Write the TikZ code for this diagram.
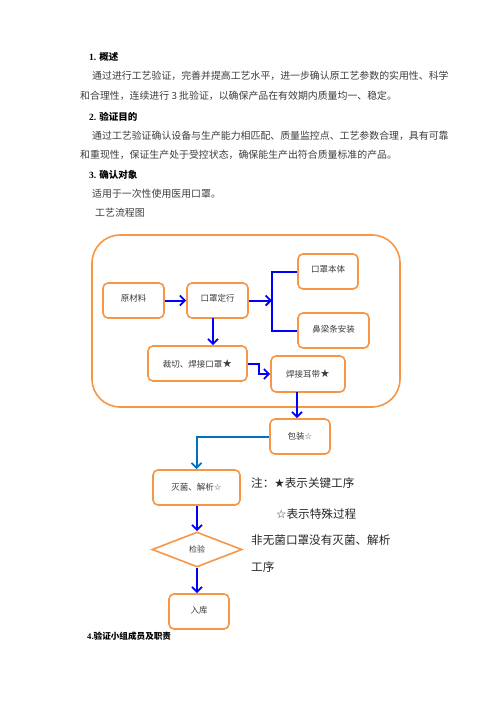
\documentclass[tikz,border=0pt]{standalone}
\usepackage{fontspec}
\setmainfont{Liberation Serif}
\newfontfamily\cjk{Noto Sans CJK SC}
\newfontfamily\sym{DejaVu Sans}
\usetikzlibrary{shapes.geometric,arrows.meta}
\definecolor{boxorange}{RGB}{247,150,70}
\definecolor{darkblue}{RGB}{0,112,192}
\definecolor{bodygray}{RGB}{60,60,60}
\newcommand{\bs}{{\sym\char"2605}}
\newcommand{\ws}{{\sym\char"2606}}
\tikzset{
  pbox/.style={draw=boxorange,line width=1.6pt,rounded corners=5pt,fill=white,inner sep=0pt,
    font=\cjk\fontsize{8.5}{10}\selectfont,text=bodygray},
  dbox/.style={draw=boxorange,line width=1.6pt,diamond,aspect=2.57,inner sep=0pt,
    minimum width=90pt,minimum height=35pt,font=\cjk\fontsize{8}{10}\selectfont,text=bodygray},
  flow/.style={draw=blue,line width=2pt,-{Straight Barb[length=5pt,width=10pt,line width=1.8pt]}},
  flowline/.style={draw=blue,line width=2pt},
  flowb/.style={draw=darkblue,line width=2pt,-{Straight Barb[length=5pt,width=10pt,line width=1.8pt]}},
  body/.style={anchor=west,inner sep=0pt,font=\cjk\fontsize{9.9}{12}\selectfont,text=bodygray},
  head/.style={anchor=west,inner sep=0pt,font=\fontsize{9.5}{12}\selectfont\bfseries,text=black},
  note/.style={anchor=west,inner sep=0pt,font=\cjk\fontsize{11.6}{14}\selectfont,text=black!85}
}
\begin{document}
\begin{tikzpicture}[x=1pt,y=-1pt]
\useasboundingbox (0,0) rectangle (496,702);
% text
\node[head] (h1) at (89,57) {1. {\cjk\bfseries 概述}};
\node[body] (p1a) at (92,76) {通过进行工艺验证，完善并提高工艺水平，进一步确认原工艺参数的实用性、科学};
\node[body] (p1b) at (80,96) {和合理性，连续进行 3 批验证，以确保产品在有效期内质量均一、稳定。};
\node[head] (h2) at (89,117) {2. {\cjk\bfseries 验证目的}};
\node[body] (p2a) at (92,136) {通过工艺验证确认设备与生产能力相匹配、质量监控点、工艺参数合理，具有可靠};
\node[body] (p2b) at (80,155) {和重现性，保证生产处于受控状态，确保能生产出符合质量标准的产品。};
\node[head] (h3) at (89,175) {3. {\cjk\bfseries 确认对象}};
\node[body] (p3) at (92,194) {适用于一次性使用医用口罩。};
\node[body] (p4) at (95,213) {工艺流程图};
\node[head,font=\fontsize{8.6}{12}\selectfont\bfseries] (h4) at (87,636) {4.{\cjk\bfseries 验证小组成员及职责}};
% outer frame
\draw[draw=boxorange,line width=1.6pt,rounded corners=28pt] (92,235) rectangle (400,407);
% nodes
\node[pbox,minimum width=61pt,minimum height=35pt] (yl) at (133.5,300.5) {\raisebox{5pt}{原材料}};
\node[pbox,minimum width=61pt,minimum height=35pt] (dx) at (217.5,300.5) {\raisebox{5pt}{口罩定行}};
\node[pbox,minimum width=60pt,minimum height=35pt] (bt) at (328,271.5) {\raisebox{5pt}{口罩本体}};
\node[pbox,minimum width=71pt,minimum height=35pt] (bl) at (333.5,330.5) {\raisebox{4pt}{鼻梁条安装}};
\node[pbox,minimum width=99pt,minimum height=35pt] (cq) at (197.5,363.5) {裁切、焊接口罩{\fontsize{11}{12}\selectfont\bs}};
\node[pbox,minimum width=74pt,minimum height=36pt] (ed) at (308,374) {焊接耳带{\fontsize{11}{12}\selectfont\bs}};
\node[pbox,minimum width=60pt,minimum height=35pt] (bz) at (300,436.5) {\raisebox{-2pt}{包装\ws}};
\node[pbox,minimum width=87pt,minimum height=35pt] (mj) at (196.5,487.5) {灭菌、解析\ws};
\node[dbox] (jy) at (197,549.5) {检验};
\node[pbox,minimum width=60pt,minimum height=35pt] (rk) at (199,611.5) {\raisebox{4pt}{入库}};
% notes
\node[note] (n1) at (251,483) {注：\bs 表示关键工序};
\node[note] (n2) at (276,514) {\ws 表示特殊过程};
\node[note] (n3) at (251,540) {非无菌口罩没有灭菌、解析};
\node[note] (n4) at (251,567) {工序};
% connectors
\coordinate (jn) at (272,300.5);
\draw[flow] (yl.east) -- (dx.west);
\draw[flow] (dx.east) -- (jn);
\draw[flowline] (bt.west) -| (jn) |- (bl.west);
\coordinate (dxs) at (213,318);
\draw[flow] (dxs) -- (dxs |- cq.north);
\draw[flow] (cq.east) -- ++(11,0) |- (ed.west);
\coordinate (eds) at (297,392);
\draw[flow] (eds) -- (eds |- bz.north);
\draw[flowb] (bz.west) -| (mj.north);
\draw[flow] (jy.north |- mj.south) -- (jy.north);
\draw[flow] (jy.south) -- (jy.south |- rk.north);
\end{tikzpicture}
\end{document}
